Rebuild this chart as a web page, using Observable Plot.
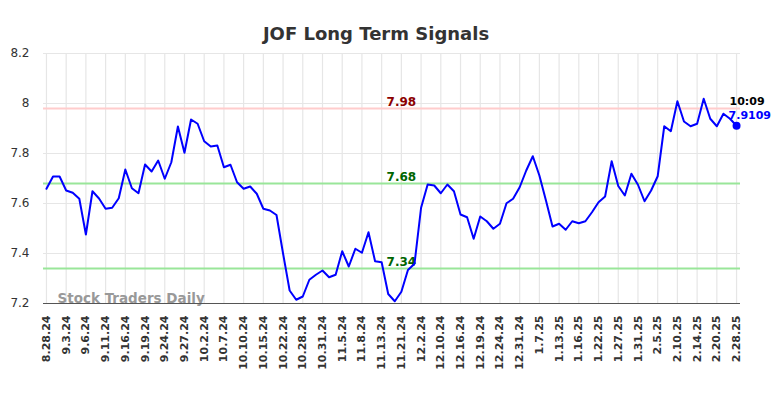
<!DOCTYPE html>
<html>
<head>
<meta charset="utf-8">
<script src="https://cdn.jsdelivr.net/npm/d3@7"></script>
<script src="https://cdn.jsdelivr.net/npm/@observablehq/plot@0.6"></script>
<style>
  html, body { margin: 0; padding: 0; background: #fff; }
</style>
</head>
<body>
<div id="chart"></div>
<script>
const title = "JOF Long Term Signals";
const tickLabels = ["8.28.24","9.3.24","9.6.24","9.11.24","9.16.24","9.19.24","9.24.24","9.27.24","10.2.24","10.7.24","10.10.24","10.15.24","10.22.24","10.28.24","10.31.24","11.5.24","11.8.24","11.13.24","11.21.24","12.2.24","12.10.24","12.16.24","12.19.24","12.24.24","12.31.24","1.7.25","1.13.25","1.16.25","1.22.25","1.27.25","1.31.25","2.5.25","2.10.25","2.14.25","2.20.25","2.28.25"];
const prices = [7.659,7.708,7.708,7.652,7.643,7.619,7.476,7.649,7.620,7.579,
  7.583,7.621,7.736,7.661,7.641,7.756,7.728,7.772,7.699,7.765,
  7.908,7.803,7.936,7.919,7.849,7.828,7.832,7.745,7.755,7.685,
  7.659,7.668,7.639,7.579,7.572,7.554,7.400,7.252,7.215,7.228,
  7.295,7.315,7.332,7.305,7.315,7.409,7.348,7.419,7.403,7.485,
  7.369,7.365,7.238,7.209,7.247,7.334,7.359,7.583,7.676,7.672,
  7.641,7.676,7.649,7.556,7.545,7.459,7.548,7.529,7.499,7.519,
  7.601,7.619,7.665,7.732,7.789,7.712,7.612,7.508,7.519,7.495,
  7.529,7.521,7.529,7.565,7.605,7.628,7.769,7.670,7.632,7.719,
  7.675,7.609,7.652,7.709,7.909,7.889,8.009,7.928,7.909,7.919,
  8.019,7.939,7.909,7.959,7.939,7.9109];
const resistance = [7.98];
const supports = [7.68, 7.34];
const yTicks = [7.2, 7.4, 7.6, 7.8, 8.0, 8.2];
const lastTime = "10:09";
const lastValue = "7.9109";
const watermark = "Stock Traders Daily";

const series = prices.map((v, i) => ({i, v}));
const tickIdx = tickLabels.map((_, k) => k * 3);
const last = series[series.length - 1];
const labelIdx = 54;

const font = "DejaVu Sans, sans-serif";
const chart = Plot.plot({
  width: 784,
  height: 398,
  marginTop: 53,
  marginBottom: 95,
  marginLeft: 43,
  marginRight: 44,
  style: {fontFamily: font, background: "#fff", overflow: "visible"},
  x: {domain: [-0.45, 105.6], axis: null},
  y: {domain: [7.2, 8.2], axis: null},
  marks: [
    Plot.ruleX(tickIdx, {stroke: "#e6e6e6", strokeWidth: 1.2}),
    Plot.ruleY(yTicks, {stroke: "#e6e6e6", strokeWidth: 1.2}),
    Plot.ruleY(resistance, {stroke: "#ffcccc", strokeWidth: 2}),
    Plot.ruleY(supports, {stroke: "#99e699", strokeWidth: 2}),
    Plot.text([watermark], {frameAnchor: "bottom-left", dx: 14, dy: -1, text: d => d, textAnchor: "start", fontSize: 13.5, fontWeight: "bold", fill: "#999"}),
    Plot.ruleY([7.2], {stroke: "#555", strokeWidth: 1.2}),
    Plot.axisY(yTicks, {label: null, tickSize: 0, tickPadding: 14, fontSize: 12, fill: "#333", tickFormat: d => String(+d.toFixed(1))}),
    Plot.axisX(tickIdx, {label: null, tickSize: 0, tickPadding: 12, tickRotate: -90, fontSize: 11, fontWeight: "bold", fill: "#333", tickFormat: d => tickLabels[d / 3]}),
    Plot.text(resistance, {x: labelIdx, y: d => d, text: d => d.toFixed(2), lineAnchor: "bottom", dy: -3, fontSize: 12, fontWeight: "bold", fill: "#8b0000"}),
    Plot.text(supports, {x: labelIdx, y: d => d, text: d => d.toFixed(2), lineAnchor: "bottom", dy: -3, fontSize: 12, fontWeight: "bold", fill: "#006400"}),
    Plot.line(series, {x: "i", y: "v", stroke: "#0000ff", strokeWidth: 2}),
    Plot.dot([last], {x: "i", y: "v", r: 4, fill: "#0000ff"}),
    Plot.text([last], {x: "i", y: "v", text: () => lastTime, textAnchor: "start", dx: -7, dy: -24, fontSize: 11, fontWeight: "bold", fill: "#000"}),
    Plot.text([last], {x: "i", y: "v", text: () => lastValue, textAnchor: "start", dx: -8, dy: -10, fontSize: 11, fontWeight: "bold", fill: "#0000ff"}),
    Plot.text([title], {frameAnchor: "top", dx: -16, dy: -26, text: d => d, fontSize: 18, fontWeight: "bold", fill: "#333"})
  ]
});
document.getElementById("chart").appendChild(chart);
</script>
</body>
</html>
